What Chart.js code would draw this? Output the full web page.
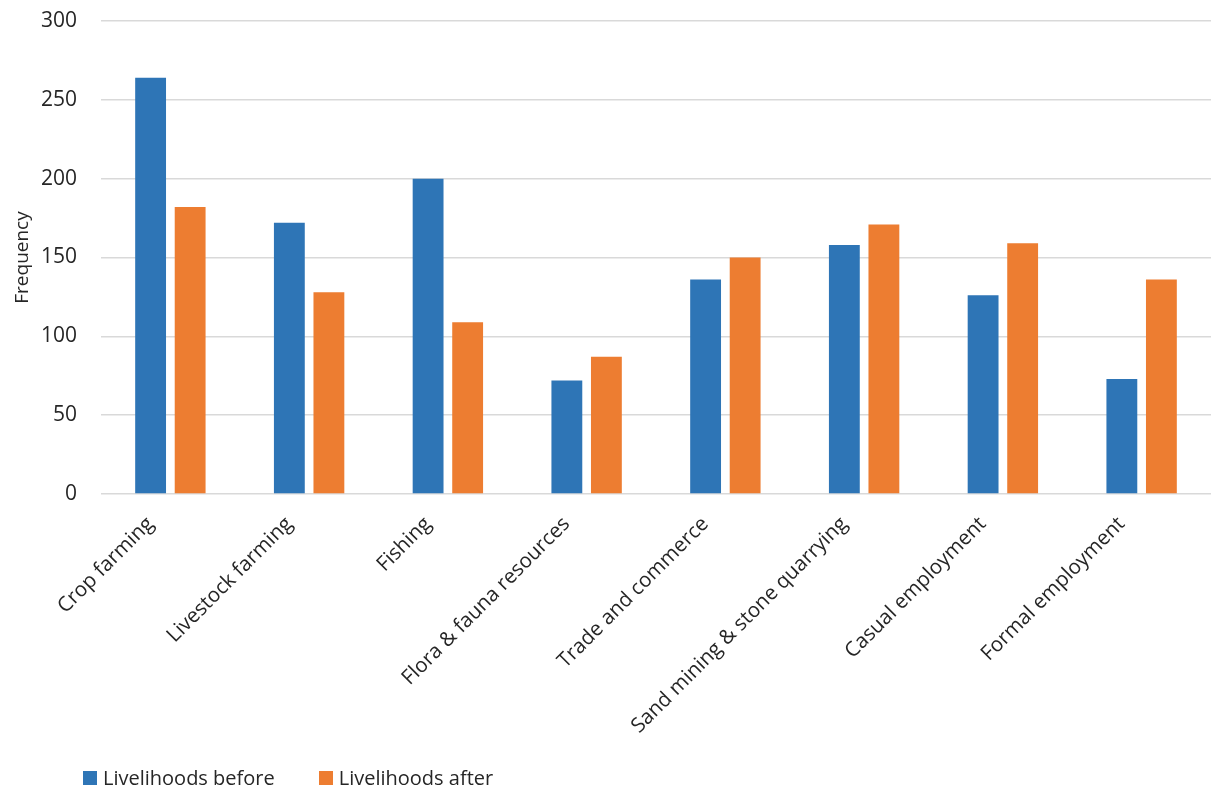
<!DOCTYPE html>
<html>
<head>
<meta charset="utf-8">
<script src="https://cdn.jsdelivr.net/npm/chart.js@4/dist/chart.umd.min.js"></script>
<style>
  body { margin: 0; background: #fff; }
  #wrap { position: relative; width: 1211px; height: 788px; }
  #legend { position: absolute; left: 83px; top: 764px; font: 20px "Open Sans", sans-serif; color: #262626; display: flex; line-height: 28px; }
  #legend span.item { display: flex; align-items: center; margin-right: 44px; }
  #legend span.box { width: 14px; height: 14px; margin-right: 6px; display: inline-block; }
</style>
</head>
<body>
<div id="wrap">
  <canvas id="livelihoodChart"></canvas>
  <div id="legend"></div>
</div>
<script>
// 類別與數值 (讀自圖片)
const categories = ['Crop farming', 'Livestock farming', 'Fishing', 'Flora & fauna resources',
  'Trade and commerce', 'Sand mining & stone quarrying', 'Casual employment', 'Formal employment'];
const before = [264, 172, 200, 72, 136, 158, 126, 73];
const after = [182, 128, 109, 87, 150, 171, 159, 136];
const seriesNames = ['Livelihoods before', 'Livelihoods after'];
const yTicks = [0, 50, 100, 150, 200, 250, 300];

const colors = ['#2E75B6', '#ED7D31'];
const textColor = '#262626';
const gridColor = '#d9d9d9';

const chartData = {
  labels: categories,
  datasets: [
    { label: seriesNames[0], data: before, backgroundColor: colors[0] },
    { label: seriesNames[1], data: after, backgroundColor: colors[1] }
  ]
};

const options = {
  responsive: true,
  maintainAspectRatio: false,
  animation: false,
  layout: { padding: { top: 21, right: 0, bottom: 44, left: 0 } },
  datasets: { bar: { categoryPercentage: 0.57, barPercentage: 0.78 } },
  scales: {
    y: {
      min: 0,
      max: 300,
      afterBuildTicks: scale => { scale.ticks = yTicks.map(v => ({ value: v })); },
      afterFit: scale => { scale.width = 101; },
      ticks: { font: { family: 'Open Sans', size: 21 }, color: textColor, padding: 0 },
      // 用透明刻度線留出標籤與格線之間的距離
      grid: { color: gridColor, lineWidth: 1.5, drawTicks: true, tickLength: 24, tickColor: 'rgba(0,0,0,0)' },
      border: { display: false },
      title: { display: true, text: 'Frequency', font: { family: 'Open Sans', size: 19 }, color: textColor, padding: { top: 11, bottom: 0 } }
    },
    x: {
      afterFit: scale => { scale.height = 250; },
      grid: { display: false },
      border: { display: false },
      ticks: { font: { family: 'Open Sans', size: 20.5 }, color: textColor, minRotation: 45, maxRotation: 45, labelOffset: -20, padding: 10 }
    }
  },
  plugins: {
    legend: { display: false },
    tooltip: { enabled: false }
  }
};

const ctx = document.getElementById('livelihoodChart');
new Chart(ctx, { type: 'bar', data: chartData, options: options });

// 自訂圖例
const legendEl = document.getElementById('legend');
seriesNames.forEach((name, i) => {
  const item = document.createElement('span');
  item.className = 'item';
  item.innerHTML = '<span class="box" style="background:' + colors[i] + '"></span>' + name;
  legendEl.appendChild(item);
});
</script>
</body>
</html>
